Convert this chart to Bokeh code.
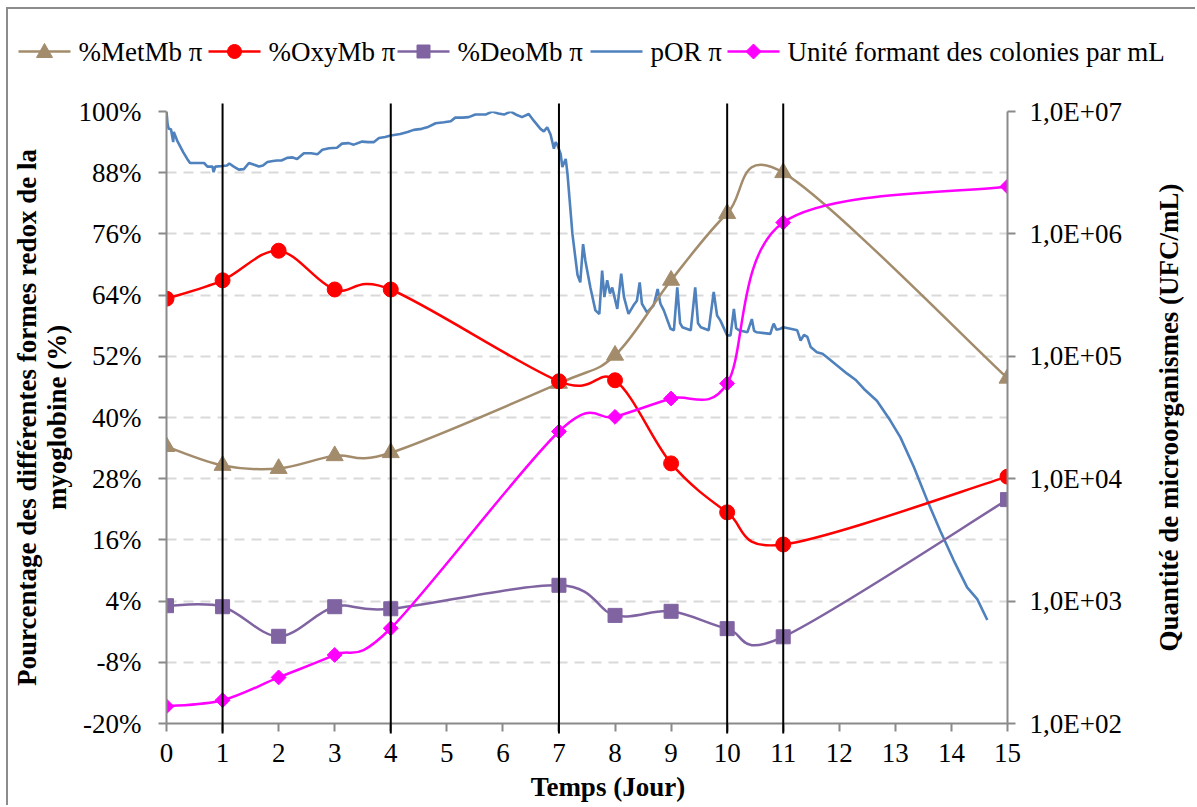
import math
from bokeh.plotting import figure
from bokeh.models import (Range1d, LogScale, LogAxis, FixedTicker, PrintfTickFormatter,
                          CustomJSTickFormatter, ColumnDataSource)
from bokeh.core.properties import value
from bokeh.embed import file_html
from bokeh.resources import INLINE

# ---------------- data ----------------
jours = [0, 1, 2, 3, 4, 7, 8, 9, 10, 11, 15]
metmb = [34.3, 30.6, 30.0, 32.5, 33.1, 46.7, 52.2, 66.9, 80.0, 88.0, 47.7]
oxymb = [63.3, 66.9, 72.7, 65.1, 65.1, 47.1, 47.3, 31.0, 21.4, 15.1, 28.4]
deomb = [3.1, 2.9, -2.9, 2.9, 2.5, 7.1, 1.2, 2.0, -1.4, -3.0, 23.9]
ufc = [138, 155, 238, 363, 600, 24300, 32000, 45200, 60000, 1240000, 2440000]

por_t = [0.00, 0.02, 0.04, 0.08, 0.12, 0.13, 0.19, 0.30, 0.37, 0.42, 0.55, 0.67, 0.73, 0.82,
         0.84, 0.87, 1.00, 1.08, 1.12, 1.20, 1.29, 1.38, 1.47, 1.55, 1.65, 1.72, 1.80, 1.90,
         1.97, 2.05, 2.15, 2.25, 2.33, 2.45, 2.58, 2.69, 2.78, 2.90, 3.04, 3.13, 3.25, 3.34,
         3.49, 3.60, 3.70, 3.79, 3.90, 4.00, 4.17, 4.30, 4.41, 4.55, 4.65, 4.80, 4.95, 5.07,
         5.15, 5.28, 5.39, 5.51, 5.69, 5.81, 5.92, 6.02, 6.14, 6.25, 6.34, 6.46, 6.55, 6.67,
         6.73, 6.79, 6.85, 6.91, 6.94, 6.97, 7.03, 7.06, 7.12, 7.15, 7.24, 7.33, 7.38, 7.43,
         7.47, 7.56, 7.65, 7.72, 7.77, 7.81, 7.86, 7.91, 7.95, 8.04, 8.11, 8.16, 8.24, 8.33,
         8.39, 8.44, 8.48, 8.57, 8.69, 8.76, 8.81, 8.87, 8.99, 9.05, 9.11, 9.16, 9.20, 9.35,
         9.43, 9.48, 9.53, 9.67, 9.76, 9.82, 9.88, 10.00, 10.06, 10.12, 10.16, 10.21, 10.36,
         10.44, 10.48, 10.53, 10.77, 10.80, 10.83, 10.88, 10.95, 11.00, 11.13, 11.25, 11.31,
         11.37, 11.43, 11.49, 11.60, 11.70, 11.78, 11.96, 12.14, 12.30, 12.44, 12.67, 12.91,
         13.09, 13.33, 13.57, 13.80, 14.04, 14.28, 14.46, 14.64]
por_v = [100.0, 97.5, 96.6, 96.5, 94.0, 96.0, 94.3, 92.0, 90.7, 89.9, 89.9, 89.9, 89.2, 89.2,
         88.1, 89.2, 89.3, 89.4, 89.8, 89.2, 88.6, 88.7, 89.9, 89.6, 89.2, 89.4, 90.1, 90.3,
         90.4, 90.4, 90.9, 91.0, 90.7, 91.8, 91.8, 91.6, 92.5, 92.8, 92.9, 93.7, 93.8, 93.5,
         94.1, 94.0, 94.0, 94.8, 95.0, 95.3, 95.6, 96.0, 96.4, 96.6, 96.9, 97.7, 97.9, 98.1,
         98.8, 98.8, 98.9, 99.4, 99.4, 100.0, 99.6, 99.4, 100.0, 99.3, 98.9, 99.5, 98.2, 96.6,
         96.1, 96.9, 95.5, 92.7, 94.0, 93.5, 91.7, 89.1, 90.7, 88.0, 76.0, 68.0, 66.5, 74.0,
         70.8, 65.5, 61.0, 60.3, 68.8, 63.6, 66.9, 64.3, 65.5, 61.3, 68.2, 63.6, 60.3, 62.0,
         62.9, 66.5, 62.3, 60.6, 62.0, 65.2, 62.3, 61.0, 57.4, 57.1, 65.5, 58.5, 57.7, 57.1,
         65.5, 58.5, 57.7, 57.1, 64.6, 60.0, 59.0, 56.1, 56.1, 61.3, 57.5, 57.1, 56.7,
         59.3, 57.0, 56.7, 56.4, 57.5, 58.4, 57.2, 57.4, 57.7, 57.4, 57.1, 55.1,
         56.2, 55.8, 53.8, 52.8, 52.5, 51.8, 50.2, 48.6, 47.3, 45.6, 43.3, 39.4,
         36.1, 30.3, 23.7, 17.8, 12.0, 6.7, 4.4, 0.3]

jours_reperes = [1, 4, 7, 10, 11]
y_ticks = [-20, -8, 4, 16, 28, 40, 52, 64, 76, 88, 100]
x_ticks = [0, 1, 2, 3, 4, 5, 6, 7, 8, 9, 10, 11, 12, 13, 14, 15]
ufc_ticks = [1e2, 1e3, 1e4, 1e5, 1e6, 1e7]

labels = ["%MetMb π", "%OxyMb π", "%DeoMb π", "pOR π", "Unité formant des colonies par mL"]
titre_x = "Temps (Jour)"
titre_y = "Pourcentage des différentes formes redox de la\nmyoglobine (%)"
titre_y2 = "Quantité de microorganismes (UFC/mL)"

# ---------------- style / layout ----------------
C_MET = "#A38C6C"
C_OXY = "#FF0000"
C_DEO = "#8064A2"
C_POR = "#4F81BD"
C_UFC = "#FF00FF"
FONT = "Liberation Serif"
FS = "27px"
AXIS_C = "#8a8a8a"

X_MIN, X_MAX = 0, 15
Y_MIN, Y_MAX = -20, 100
FRAME_LEFT, FRAME_TOP = 158, 102
FRAME_W, FRAME_H = 841, 612
W, H = 1189, 798

# legend layout (pixels inside the figure)
LEG_Y = 42
LEG_GLYPH_X = [10, 200, 389, 582, 719]
LEG_GLYPH_W = 52
LEG_LABEL_GAP = 60


def px_x(fx):
    return X_MIN + (fx - FRAME_LEFT) * (X_MAX - X_MIN) / FRAME_W


def px_y(fy):
    return Y_MAX + (FRAME_TOP - fy) * (Y_MAX - Y_MIN) / FRAME_H


def smooth_segments(xs, ys):
    """Excel-like smoothed line: cubic Bezier control points (Catmull-Rom, 1/6)."""
    n = len(xs)
    d = dict(x0=[], y0=[], x1=[], y1=[], cx0=[], cy0=[], cx1=[], cy1=[])
    for i in range(n - 1):
        xp, yp = (xs[i - 1], ys[i - 1]) if i > 0 else (xs[i], ys[i])
        xn, yn = (xs[i + 2], ys[i + 2]) if i + 2 < n else (xs[i + 1], ys[i + 1])
        d["x0"].append(xs[i]); d["y0"].append(ys[i])
        d["x1"].append(xs[i + 1]); d["y1"].append(ys[i + 1])
        d["cx0"].append(xs[i] + (xs[i + 1] - xp) / 6.0)
        d["cy0"].append(ys[i] + (ys[i + 1] - yp) / 6.0)
        d["cx1"].append(xs[i + 1] - (xn - xs[i]) / 6.0)
        d["cy1"].append(ys[i + 1] - (yn - ys[i]) / 6.0)
    return d


p = figure(width=W, height=H,
           x_range=Range1d(X_MIN, X_MAX), y_range=Range1d(Y_MIN, Y_MAX),
           output_backend="svg", toolbar_location=None,
           min_border_left=FRAME_LEFT, min_border_right=W - FRAME_LEFT - FRAME_W,
           min_border_top=FRAME_TOP, min_border_bottom=H - FRAME_TOP - FRAME_H)
p.styles = {"margin-left": "6px", "margin-top": "7px",
            "border-left": "2px solid #8c8c8c", "border-top": "2px solid #8c8c8c"}
p.outline_line_color = None
p.background_fill_color = "white"
p.border_fill_color = "white"

p.extra_y_ranges = {"ufc": Range1d(1e2, 1e7)}
p.extra_y_scales = {"ufc": LogScale()}

xa = p.xaxis[0]
xa.ticker = FixedTicker(ticks=x_ticks)
ya = p.yaxis[0]
ya.ticker = FixedTicker(ticks=y_ticks)
ya.formatter = PrintfTickFormatter(format="%d%%")

ya2 = LogAxis(y_range_name="ufc", ticker=FixedTicker(ticks=ufc_ticks),
              formatter=CustomJSTickFormatter(code="""
                  const e = Math.round(Math.log10(tick));
                  return "1,0E+" + (e < 10 ? "0" + e : "" + e);
              """))
p.add_layout(ya2, "right")

for ax in (xa, ya, ya2):
    ax.axis_line_color = AXIS_C
    ax.axis_line_width = 2
    ax.major_tick_line_color = AXIS_C
    ax.major_tick_line_width = 2
    ax.major_tick_in = 0
    ax.major_tick_out = 8
    ax.minor_tick_line_color = None
    ax.major_label_text_font = FONT
    ax.major_label_text_font_size = FS
    ax.major_label_text_color = "black"
    ax.axis_label_text_font = FONT
    ax.axis_label_text_font_size = FS
    ax.axis_label_text_font_style = "bold"
    ax.axis_label_text_color = "black"

xa.major_label_standoff = 12
ya.axis_label = titre_y
ya.axis_label_text_line_height = 1.0
ya.major_label_standoff = 17
ya.axis_label_standoff = 4
ya2.major_label_standoff = 14

p.xgrid.visible = False
p.ygrid.ticker = FixedTicker(ticks=y_ticks)
p.ygrid.grid_line_color = "#d9d9d9"
p.ygrid.grid_line_width = 2
p.ygrid.grid_line_dash = "10 7"

# pOR (plain line)
p.line(por_t, por_v, line_color=C_POR, line_width=2.6)

# smoothed series
bz = dict(x0="x0", y0="y0", x1="x1", y1="y1", cx0="cx0", cy0="cy0", cx1="cx1", cy1="cy1")
p.bezier(source=ColumnDataSource(smooth_segments(jours, metmb)), line_color=C_MET, line_width=2.5, **bz)
p.bezier(source=ColumnDataSource(smooth_segments(jours, oxymb)), line_color=C_OXY, line_width=2.5, **bz)
p.bezier(source=ColumnDataSource(smooth_segments(jours, deomb)), line_color=C_DEO, line_width=2.5, **bz)

log_ufc = [math.log10(v) for v in ufc]
seg = smooth_segments(jours, log_ufc)
for k in ("y0", "y1", "cy0", "cy1"):
    seg[k] = [10 ** v for v in seg[k]]
p.bezier(source=ColumnDataSource(seg), y_range_name="ufc", line_color=C_UFC, line_width=2.5, **bz)

p.scatter(jours, metmb, marker="triangle", size=17, fill_color=C_MET, line_color=C_MET)
p.scatter(jours, oxymb, marker="circle", size=15, fill_color=C_OXY, line_color=C_OXY)
p.scatter(jours, deomb, marker="square", size=14, fill_color=C_DEO, line_color=C_DEO)
p.scatter(jours, ufc, y_range_name="ufc", marker="square", angle=math.pi / 4, size=10.5,
          fill_color=C_UFC, line_color=C_UFC)

# vertical reference lines (on top, slightly past the plot area)
dy_top = 8 * (Y_MAX - Y_MIN) / FRAME_H
dy_bot = 10 * (Y_MAX - Y_MIN) / FRAME_H
n = len(jours_reperes)
p.segment(x0=jours_reperes, x1=jours_reperes,
          y0=[Y_MIN - dy_bot] * n, y1=[Y_MAX + dy_top] * n,
          line_color="black", line_width=2, level="annotation")

# axis titles drawn as text (bottom one slightly right of centre, right one bottom-to-top)
p.text(x=[(X_MIN + X_MAX) / 2], y=[Y_MIN], text=[titre_x],
       x_offset=21, y_offset=63, text_align="center", text_baseline="middle",
       text_font=value(FONT), text_font_size=FS, text_font_style="bold",
       text_color="black", level="annotation")
p.text(x=[X_MAX], y=[(Y_MIN + Y_MAX) / 2], text=[titre_y2], angle=math.pi / 2,
       x_offset=161, text_align="center", text_baseline="middle",
       text_font=value(FONT), text_font_size=FS, text_font_style="bold",
       text_color="black", level="annotation")

# ---------------- legend (top strip, outside the plot area) ----------------
leg_colors = [C_MET, C_OXY, C_DEO, C_POR, C_UFC]
ly = px_y(LEG_Y)
leg_lines = ColumnDataSource(dict(
    x0=[px_x(g) for g in LEG_GLYPH_X],
    x1=[px_x(g + LEG_GLYPH_W) for g in LEG_GLYPH_X],
    y=[ly] * 5, color=leg_colors))
p.segment(x0="x0", x1="x1", y0="y", y1="y", line_color="color", line_width=2.5,
          source=leg_lines, level="annotation")


def legend_marker(kind, i):
    """Swatch marker polygon, built in pixels around the swatch centre."""
    cx = LEG_GLYPH_X[i] + LEG_GLYPH_W / 2
    cy = LEG_Y
    if kind == "triangle":
        pts = [(cx, cy - 8), (cx + 8, cy + 6), (cx - 8, cy + 6)]
    elif kind == "circle":
        pts = [(cx + 7 * math.cos(a / 24 * 2 * math.pi), cy + 7 * math.sin(a / 24 * 2 * math.pi))
               for a in range(24)]
    elif kind == "square":
        pts = [(cx - 6.5, cy - 6.5), (cx + 6.5, cy - 6.5), (cx + 6.5, cy + 6.5), (cx - 6.5, cy + 6.5)]
    else:  # diamond
        pts = [(cx, cy - 7.5), (cx + 7.5, cy), (cx, cy + 7.5), (cx - 7.5, cy)]
    return [px_x(a) for a, _ in pts], [px_y(b) for _, b in pts]


for kind, i in (("triangle", 0), ("circle", 1), ("square", 2), ("diamond", 4)):
    xs, ys = legend_marker(kind, i)
    p.patch(xs, ys, fill_color=leg_colors[i], line_color=leg_colors[i], line_width=1,
            level="annotation")

leg_text = ColumnDataSource(dict(
    x=[px_x(g + LEG_LABEL_GAP) for g in LEG_GLYPH_X], y=[ly] * 5, text=labels))
p.text(x="x", y="y", text="text", source=leg_text, text_align="left", text_baseline="middle",
       text_font=value(FONT), text_font_size=FS, text_color="black", level="annotation")

open("out.html", "w").write(file_html(p, INLINE))
